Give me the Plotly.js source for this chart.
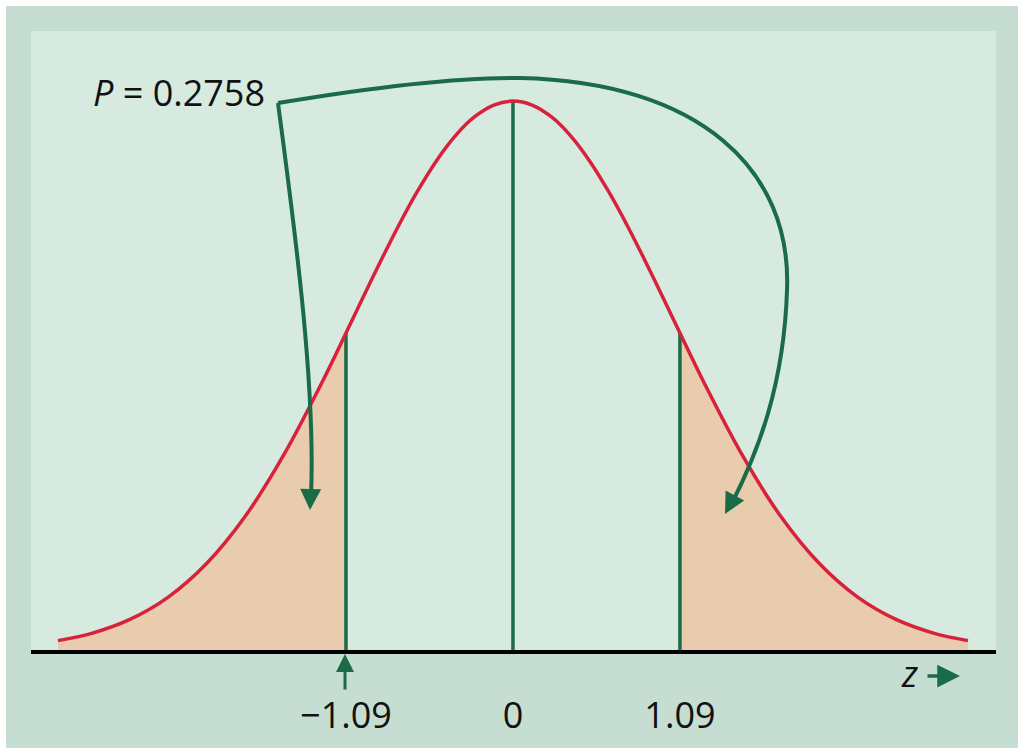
<!DOCTYPE html>
<html>
<head>
<meta charset="utf-8">
<script src="https://cdn.plot.ly/plotly-3.0.1.min.js"></script>
<style>html,body{margin:0;padding:0;background:#ffffff;}#chart{width:1024px;height:755px;}</style>
</head>
<body>
<div id="chart"></div>
<script>
// Curve (z value, density height)
const curveZ = [-2.97,-2.75,-2.5,-2.25,-2.0,-1.75,-1.5,-1.25,-1.09,-1.0,-0.875,-0.75,-0.625,-0.5,-0.375,-0.25,-0.125,0,0.125,0.25,0.375,0.5,0.625,0.75,0.875,1.0,1.09,1.25,1.5,1.75,2.0,2.25,2.5,2.75,2.97];
const curveDensity = [0.0068,0.0121,0.0222,0.0384,0.0628,0.0968,0.1410,0.1937,0.2303,0.2512,0.2800,0.3076,0.3330,0.3554,0.3738,0.3875,0.3960,0.3989,0.3960,0.3875,0.3738,0.3554,0.3330,0.3076,0.2800,0.2512,0.2303,0.1937,0.1410,0.0968,0.0628,0.0384,0.0222,0.0121,0.0068];
const cutoffs = [-1.09, 0, 1.09];
const cutoffHeights = [0.2303, 0.3989, 0.2303];
const tickLabels = ['\u22121.09', '0', '1.09'];
const pLabel = '<i>P</i> = 0.2758';
const axisLabel = '<i>z</i>';

const xRange = [-3.146, 3.153];
const yRange = [0, 0.4498];
const M = {l:31, r:28, t:31, b:105};
const W = 1024, H = 755;
const pw = W - M.l - M.r, ph = H - M.t - M.b;
function px2x(px){ return xRange[0] + (px - M.l) / pw * (xRange[1]-xRange[0]); }
function py2y(py){ return yRange[1] - (py - M.t) / ph * (yRange[1]-yRange[0]); }
function pt(px,py){ return px2x(px).toFixed(4) + ',' + py2y(py).toFixed(5); }
function ppx(px){ return (px - M.l)/pw; }
function ppy(py){ return 1 - (py - M.t)/ph; }

const red = '#d8223b', peach = '#e9cbae', green = '#1a6b47';
const font = '"Open Sans", "Liberation Sans", sans-serif';

const leftZ = [], leftD = [], rightZ = [], rightD = [];
curveZ.forEach((z,i)=>{
  if (z <= cutoffs[0]) { leftZ.push(z); leftD.push(curveDensity[i]); }
  if (z >= cutoffs[2]) { rightZ.push(z); rightD.push(curveDensity[i]); }
});

const traces = [
  {x:leftZ, y:leftD, type:'scatter', mode:'lines', line:{color:'rgba(0,0,0,0)', width:0, shape:'spline'}, fill:'tozeroy', fillcolor:peach, hoverinfo:'skip'},
  {x:rightZ, y:rightD, type:'scatter', mode:'lines', line:{color:'rgba(0,0,0,0)', width:0, shape:'spline'}, fill:'tozeroy', fillcolor:peach, hoverinfo:'skip'}
];
cutoffs.forEach((c,i)=>{
  traces.push({x:[c,c], y:[0,cutoffHeights[i]], type:'scatter', mode:'lines', line:{color:green, width:3.5}, hoverinfo:'skip'});
});
traces.push({x:curveZ, y:curveDensity, type:'scatter', mode:'lines', line:{color:red, width:3.5, shape:'spline', smoothing:1}, hoverinfo:'skip'});

const rightPath = 'M' + pt(278,103) + ' C' + pt(380,86) + ' ' + pt(460,77) + ' ' + pt(520,78) +
  ' C' + pt(700,82) + ' ' + pt(792,170) + ' ' + pt(787,290) +
  ' C' + pt(784,385) + ' ' + pt(758,452) + ' ' + pt(732,503);
const leftPath = 'M' + pt(278,103) + ' C' + pt(292,210) + ' ' + pt(316,380) + ' ' + pt(311,496);

const shapes = [
  {type:'rect', xref:'paper', yref:'paper', x0:ppx(6), x1:ppx(1018), y0:ppy(748), y1:ppy(6), fillcolor:'#c6ddd2', line:{width:0}, layer:'below'},
  {type:'rect', xref:'paper', yref:'paper', x0:ppx(31), x1:ppx(996), y0:ppy(650), y1:ppy(31), fillcolor:'#d6eae0', line:{width:0}, layer:'below'},
  {type:'path', xref:'x', yref:'y', path:rightPath, line:{color:green, width:4}},
  {type:'path', xref:'x', yref:'y', path:leftPath, line:{color:green, width:4}}
];

const annotations = [
  {x:ppx(91), y:ppy(93), xref:'paper', yref:'paper', text:pLabel, showarrow:false, xanchor:'left', yanchor:'middle', font:{family:font, size:36, color:'#111'}},
  {x:ppx(909), y:ppy(673), xref:'paper', yref:'paper', text:axisLabel, showarrow:false, xanchor:'center', yanchor:'middle', font:{family:font, size:36, color:'#111'}},
  {x:ppx(960), y:ppy(676), xref:'paper', yref:'paper', text:'', showarrow:true, ax:-34, ay:0, arrowhead:2, arrowsize:1.3, arrowwidth:3.5, arrowcolor:green, standoff:0},
  {x:ppx(345), y:ppy(654), xref:'paper', yref:'paper', text:'', showarrow:true, ax:0, ay:37, arrowhead:2, arrowsize:1.2, arrowwidth:3, arrowcolor:green, standoff:0},
  {x:ppx(310), y:ppy(510), xref:'paper', yref:'paper', text:'', showarrow:true, ax:0.5, ay:-16, arrowhead:2, arrowsize:1.4, arrowwidth:3, arrowcolor:green, standoff:0},
  {x:ppx(725), y:ppy(514), xref:'paper', yref:'paper', text:'', showarrow:true, ax:8, ay:-15, arrowhead:2, arrowsize:1.4, arrowwidth:3, arrowcolor:green, standoff:0}
];

const layout = {
  width:W, height:H,
  margin:M,
  paper_bgcolor:'#ffffff',
  plot_bgcolor:'rgba(0,0,0,0)',
  showlegend:false,
  xaxis:{range:xRange, showgrid:false, zeroline:false, showline:true, linecolor:'#000', linewidth:3.5,
    tickvals:cutoffs, ticktext:tickLabels, ticks:'', tickfont:{family:font, size:36, color:'#111'}, ticklabelstandoff:31, fixedrange:true},
  yaxis:{range:yRange, showgrid:false, zeroline:false, showline:false, showticklabels:false, ticks:'', fixedrange:true},
  shapes:shapes,
  annotations:annotations
};

Plotly.newPlot('chart', traces, layout, {displayModeBar:false, staticPlot:true});
</script>
</body>
</html>
